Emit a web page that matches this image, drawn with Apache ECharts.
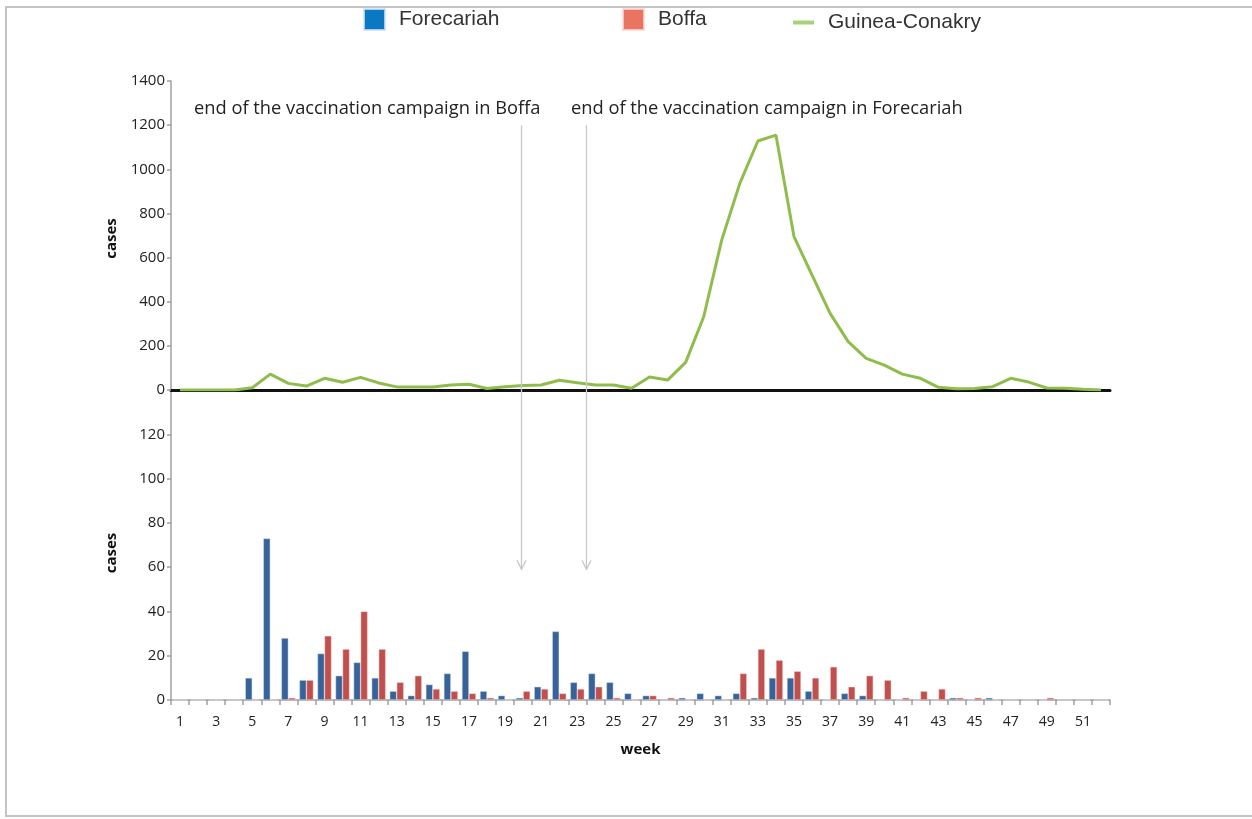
<!DOCTYPE html>
<html>
<head>
<meta charset="utf-8">
<title>Weekly cases: Forecariah, Boffa and Guinea-Conakry</title>
<script src="https://cdn.jsdelivr.net/npm/echarts@6/dist/echarts.min.js"></script>
<style>
  html, body { margin: 0; padding: 0; background: #ffffff; }
  #chart { width: 1252px; height: 819px; }
</style>
</head>
<body>
<div id="chart"></div>
<script>
// Epidemiological weeks
const weeks = ['1','2','3','4','5','6','7','8','9','10','11','12','13','14','15','16','17','18','19','20',
  '21','22','23','24','25','26','27','28','29','30','31','32','33','34','35','36','37','38','39','40',
  '41','42','43','44','45','46','47','48','49','50','51','52'];

// Weekly cases, whole country (upper panel)
const guineaConakry = [0, 0, 0, 0, 10, 72, 30, 18, 53, 35, 57, 32, 14, 14, 14, 23, 26, 7, 15, 20,
  23, 44, 33, 23, 23, 8, 59, 45, 125, 332, 680, 936, 1128, 1155, 695, 520, 347, 219, 143, 113,
  72, 53, 12, 6, 7, 15, 53, 36, 9, 8, 3, 0];

// Weekly cases per prefecture (lower panel)
const forecariah = [0, 0, 0, 0, 10, 73, 28, 9, 21, 11, 17, 10, 4, 2, 7, 12, 22, 4, 2, 1,
  6, 31, 8, 12, 8, 3, 2, 0, 1, 3, 2, 3, 1, 10, 10, 4, 0, 3, 2, 0,
  0, 0, 0, 1, 0, 1, 0, 0, 0, 0, 0, 0];
const boffa = [0, 0, 0, 0, 0, 0, 1, 9, 29, 23, 40, 23, 8, 11, 5, 4, 3, 1, 0, 4,
  5, 3, 5, 6, 1, 0, 2, 1, 0, 0, 0, 12, 23, 18, 13, 10, 15, 6, 11, 9,
  1, 4, 5, 1, 1, 0, 0, 0, 1, 0, 0, 0];

// Ends of the vaccination campaigns (week position, label)
const campaignEnds = [
  { week: 19.9, label: 'end of the vaccination campaign in Boffa' },
  { week: 23.5, label: 'end of the vaccination campaign in Forecariah' }
];

const tickFont = { fontFamily: 'Open Sans', fontSize: 14, color: '#222' };
const yTickFont = { fontFamily: 'Open Sans', fontSize: 15, color: '#222' };
const greyAxis = { lineStyle: { color: '#a0a0a0', width: 1.5 } };

const chart = echarts.init(document.getElementById('chart'), null, { renderer: 'canvas' });

const legendBase = {
  orient: 'horizontal',
  top: 8,
  padding: 0,
  itemWidth: 21,
  itemHeight: 21,
  selectedMode: false,
  textStyle: { fontFamily: 'Liberation Sans', fontSize: 21, color: '#333', padding: [6, 0, 0, 9] }
};

chart.setOption({
  backgroundColor: '#ffffff',
  animation: false,
  legend: [
    Object.assign({}, legendBase, { left: 363,
      data: [{ name: 'Forecariah', icon: 'rect', itemStyle: { color: '#0b78c3' } }] }),
    Object.assign({}, legendBase, { left: 622,
      data: [{ name: 'Boffa', icon: 'rect', itemStyle: { color: '#e97561' } }] }),
    Object.assign({}, legendBase, { left: 793, top: 12, itemHeight: 4,
      textStyle: Object.assign({}, legendBase.textStyle, { padding: [0, 0, 0, 9] }),
      data: [{ name: 'Guinea-Conakry', icon: 'rect', itemStyle: { color: '#a7d27c' }, lineStyle: { color: '#a7d27c' } }] })
  ],
  grid: [
    { left: 171, right: 142, top: 81, height: 309 },
    { left: 171, right: 142, top: 390, height: 310 }
  ],
  xAxis: [
    {
      gridIndex: 0, type: 'category', data: weeks, boundaryGap: true,
      axisLine: { lineStyle: { color: '#111', width: 3 } },
      axisTick: { show: false }, axisLabel: { show: false }, splitLine: { show: false }
    },
    {
      gridIndex: 1, type: 'category', data: weeks, boundaryGap: true,
      name: 'week', nameLocation: 'middle', nameGap: 42,
      nameTextStyle: { fontFamily: 'Open Sans', fontSize: 15, fontWeight: 'bold', color: '#111' },
      axisLine: greyAxis,
      axisTick: { show: true, length: 5, interval: 0, lineStyle: { color: '#a0a0a0', width: 1.5 } },
      axisLabel: Object.assign({ interval: 1, margin: 15 }, tickFont),
      splitLine: { show: false }
    }
  ],
  yAxis: [
    {
      gridIndex: 0, type: 'value', min: 0, max: 1400, interval: 200,
      name: 'cases', nameLocation: 'middle', nameGap: 52, nameRotate: 90,
      nameTextStyle: { fontFamily: 'Open Sans', fontSize: 15, fontWeight: 'bold', color: '#111', padding: [0, 6, 0, 0] },
      axisLine: Object.assign({ show: true }, greyAxis),
      axisTick: { show: true, length: 4, lineStyle: { color: '#a0a0a0', width: 1.5 } },
      axisLabel: Object.assign({ margin: 6, formatter: v => String(v) }, yTickFont),
      splitLine: { show: false }
    },
    {
      gridIndex: 1, type: 'value', min: 0, max: 140, interval: 20,
      name: 'cases', nameLocation: 'middle', nameGap: 52, nameRotate: 90,
      nameTextStyle: { fontFamily: 'Open Sans', fontSize: 15, fontWeight: 'bold', color: '#111', padding: [0, 16, 0, 0] },
      axisLine: Object.assign({ show: true }, greyAxis),
      axisTick: { show: true, length: 4, lineStyle: { color: '#a0a0a0', width: 1.5 } },
      axisLabel: Object.assign({ margin: 6, formatter: v => (v === 140 ? '' : String(v)) }, yTickFont),
      splitLine: { show: false }
    }
  ],
  series: [
    {
      name: 'Forecariah', type: 'bar', xAxisIndex: 1, yAxisIndex: 1,
      data: forecariah, barGap: '0%', barCategoryGap: '22%',
      itemStyle: { color: '#38639a', borderColor: 'rgba(210,225,245,0.8)', borderWidth: 0.6 }
    },
    {
      name: 'Boffa', type: 'bar', xAxisIndex: 1, yAxisIndex: 1,
      data: boffa, barGap: '0%', barCategoryGap: '22%',
      itemStyle: { color: '#c0504d', borderColor: 'rgba(250,215,215,0.8)', borderWidth: 0.6 }
    },
    {
      name: 'Guinea-Conakry', type: 'line', xAxisIndex: 0, yAxisIndex: 0,
      data: guineaConakry, showSymbol: false, symbol: 'none', z: 3,
      lineStyle: { color: '#8fbd4c', width: 3 }, itemStyle: { color: '#8fbd4c' }
    }
  ]
});

// Position of a fractional week along the shared category axis
function weekToX(w) {
  const lo = Math.floor(w), hi = lo + 1;
  const xLo = chart.convertToPixel({ xAxisIndex: 1 }, String(lo));
  const xHi = chart.convertToPixel({ xAxisIndex: 1 }, String(hi));
  return xLo + (xHi - xLo) * (w - lo);
}

const yTop = chart.convertToPixel({ yAxisIndex: 0 }, 1200);
const yBot = chart.convertToPixel({ yAxisIndex: 1 }, 59);

const graphics = [
  // outer frame
  { type: 'rect', shape: { x: 6, y: 7, width: 1260, height: 809 }, silent: true,
    style: { fill: 'none', stroke: '#c4c4c4', lineWidth: 2 }, z: 0 }
];

const labelLeft = [194, 571];
campaignEnds.forEach((c, i) => {
  const x = Math.round(weekToX(c.week)) + 0.5;
  graphics.push({ type: 'line', silent: true, z: 10,
    shape: { x1: x, y1: yTop, x2: x, y2: yBot }, style: { stroke: '#c8c8c8', lineWidth: 1.3 } });
  graphics.push({ type: 'polyline', silent: true, z: 10,
    shape: { points: [[x - 4.5, yBot - 9], [x, yBot], [x + 4.5, yBot - 9]] },
    style: { stroke: '#c8c8c8', lineWidth: 1.3, fill: 'none' } });
  graphics.push({ type: 'text', silent: true, z: 10, left: labelLeft[i], top: 100,
    style: { text: c.label, font: '18.3px "Open Sans"', fill: '#222' } });
});

chart.setOption({ graphic: graphics });
</script>
</body>
</html>
